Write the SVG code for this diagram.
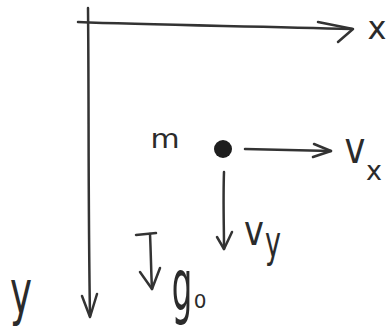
<svg xmlns="http://www.w3.org/2000/svg" width="391" height="331" viewBox="0 0 391 331">
<style>
.ln{fill:none;stroke:#333;stroke-width:2.5;stroke-linecap:round;stroke-linejoin:round}
.lb{font-family:"DejaVu Sans","Liberation Sans",sans-serif;fill:#2b2b2b;text-anchor:middle}
</style>
<rect width="391" height="331" fill="#fff"/>
<g id="connectors">
  <g id="x-axis">
    <path class="ln" d="M78,22 C150,25 250,26 352,29"/>
    <path class="ln" stroke-width="3" d="M318,22 L353,29 L338,42"/>
  </g>
  <g id="y-axis">
    <path class="ln" d="M88,8 C89,100 88,200 90,316"/>
    <path class="ln" d="M82,296 L90,317 L97,294"/>
  </g>
  <g id="vx-arrow">
    <path class="ln" d="M245,149 L331,151"/>
    <path class="ln" d="M314,144 L331,151 L313,157"/>
  </g>
  <g id="vy-arrow">
    <path class="ln" d="M224,172 C223,200 224,225 224,249"/>
    <path class="ln" d="M217,237 L224,249 L232,232"/>
  </g>
  <g id="g0-arrow">
    <path class="ln" d="M136,235 L156,233"/>
    <path class="ln" d="M150,234 C151,255 151,270 152,289"/>
    <path class="ln" d="M140,272 L152,289 L160,268"/>
  </g>
</g>
<g id="mass">
  <circle cx="223" cy="149" r="9" fill="#1e1e1e"/>
  <text class="lb" font-size="26" transform="translate(165,148) scale(1.15,1)">m</text>
</g>
<g id="label-x"><text class="lb" x="377" y="39" font-size="32">x</text></g>
<g id="label-vx">
  <text class="lb" font-size="44" transform="translate(355,163) scale(0.8,1)">v</text>
  <text class="lb" x="374" y="180" font-size="27">x</text>
</g>
<g id="label-vy">
  <text class="lb" font-size="42" transform="translate(254,245) scale(0.8,1)">v</text>
  <text class="lb" font-size="45" transform="translate(273,257) scale(0.6,1)">y</text>
</g>
<g id="label-g0">
  <text class="lb" font-size="72" transform="translate(182,310) scale(0.45,1)">g</text>
  <text class="lb" x="200" y="308" font-size="20">0</text>
</g>
<g id="label-y"><text class="lb" font-size="60" transform="translate(21,313) scale(0.62,1)">y</text></g>
</svg>
